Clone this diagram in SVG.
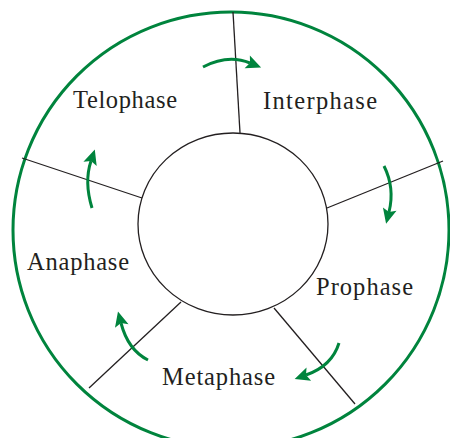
<svg xmlns="http://www.w3.org/2000/svg" width="450" height="438" viewBox="0 0 450 438">
<style>
.lbl{font-family:"Liberation Serif","DejaVu Serif",serif;font-size:24.5px;fill:#231f20}
.sp{stroke:#231f20;stroke-width:1.3;fill:none}
.arr{stroke:#00843d;stroke-width:3;fill:none;marker-end:url(#ah)}
</style>
<defs>
<marker id="ah" markerUnits="userSpaceOnUse" viewBox="-1 -8 18 16" refX="3" refY="0" markerWidth="18" markerHeight="16" orient="auto">
<path d="M0,-7 L15,0 L0,7 L3,0 z" fill="#00843d"/>
</marker>
</defs>
<rect width="450" height="438" fill="#fff"/>
<g id="wheel">
<circle cx="231" cy="230" r="218" fill="none" stroke="#00843d" stroke-width="3"/>
<ellipse id="center" cx="233" cy="224" rx="95" ry="91" fill="none" stroke="#231f20" stroke-width="1.3"/>
</g>
<g id="spokes">
<line class="sp" x1="233" y1="12" x2="240" y2="133"/>
<line class="sp" x1="327" y1="208" x2="443" y2="161"/>
<line class="sp" x1="274" y1="308" x2="355" y2="404"/>
<line class="sp" x1="181" y1="302" x2="89" y2="388"/>
<line class="sp" x1="142" y1="198" x2="22" y2="158"/>
</g>
<g id="connectors">
<path class="arr" d="M203,67 Q228,54 250,63"/>
<path class="arr" d="M384,166 Q395,188 389,212"/>
<path class="arr" d="M339,343 Q332,366 306,375"/>
<path class="arr" d="M148,360 Q128,350 121,323"/>
<path class="arr" d="M92,208 Q84,182 91,161"/>
</g>
<g id="interphase"><text class="lbl" x="263" y="109" textLength="114">Interphase</text></g>
<g id="prophase"><text class="lbl" x="316" y="295" textLength="97">Prophase</text></g>
<g id="metaphase"><text class="lbl" x="162" y="385" textLength="113">Metaphase</text></g>
<g id="anaphase"><text class="lbl" x="27" y="270" textLength="102">Anaphase</text></g>
<g id="telophase"><text class="lbl" x="73" y="108" textLength="104">Telophase</text></g>
</svg>
